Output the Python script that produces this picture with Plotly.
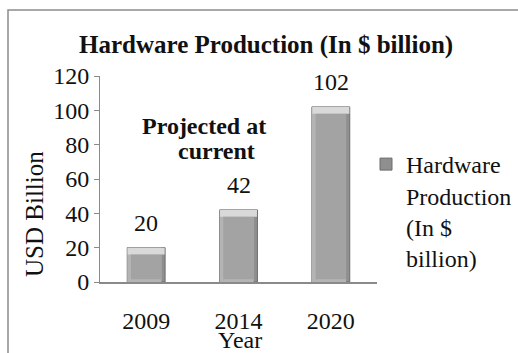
import plotly.graph_objects as go

years = ["2009", "2014", "2020"]
production = [20, 42, 102]
series_name = "Hardware<br>Production<br>(In $<br>billion)"
y_ticks = [0, 20, 40, 60, 80, 100, 120]

FONT = "Liberation Serif, Times New Roman, serif"
INK = "#111111"
AXIS = "#8a8a8a"

# plot area geometry in pixels
W, H = 518, 353
L, R, T, B = 100, 141, 76, 71
pw, ph = W - L - R, H - T - B

BAR_W = 0.41
TOP_BEVEL = 4.0      # in data units (~7 px)
BOTTOM_BEVEL = 1.6
SIDE = 0.04          # side bevel width in category units


def px_x(px):
    return (px - L) / pw


def px_y(py):
    return (H - B - py) / ph


def label(text, x, y, size=24, angle=0):
    return dict(text=text, xref="paper", yref="paper",
                x=px_x(x), y=px_y(y), xanchor="center", yanchor="middle",
                showarrow=False, textangle=angle,
                font=dict(family=FONT, size=size, color=INK))


fig = go.Figure()

# main bars (dark right/bottom bevel shows through)
fig.add_trace(go.Bar(
    x=years, y=production, name=series_name,
    width=BAR_W,
    marker=dict(color="#8f8f8f", line=dict(color="#6c6c6c", width=1)),
    showlegend=True, hoverinfo="skip",
))
# light left bevel
fig.add_trace(go.Bar(
    x=years, y=production, width=BAR_W - SIDE, offset=-BAR_W / 2,
    marker=dict(color="#b4b4b4", line=dict(width=0)),
    showlegend=False, hoverinfo="skip",
))
# bright top bevel
fig.add_trace(go.Bar(
    x=years, y=[TOP_BEVEL] * len(production),
    base=[v - TOP_BEVEL for v in production],
    width=BAR_W - 0.01, offset=-BAR_W / 2 + 0.005,
    marker=dict(color="#d9d9d9", line=dict(width=0)),
    showlegend=False, hoverinfo="skip",
))
# bar face
fig.add_trace(go.Bar(
    x=years, y=[v - TOP_BEVEL - BOTTOM_BEVEL for v in production],
    base=[BOTTOM_BEVEL] * len(production),
    width=BAR_W - 2 * SIDE, offset=-BAR_W / 2 + SIDE,
    marker=dict(color="#a3a3a3", line=dict(width=0)),
    showlegend=False, hoverinfo="skip",
))

# value labels sitting above each bar
value_labels = [
    dict(text=str(v), x=i, y=v, xref="x", yref="y",
         xanchor="center", yanchor="bottom", yshift=10, showarrow=False,
         font=dict(family=FONT, size=24, color=INK))
    for i, v in enumerate(production)
]

fig.update_layout(
    width=W, height=H,
    margin=dict(l=L, r=R, t=T, b=B, autoexpand=False),
    paper_bgcolor="white", plot_bgcolor="white",
    font=dict(family=FONT, size=24, color=INK),
    barmode="overlay",
    showlegend=True,
    legend=dict(
        x=px_x(366), y=px_y(142), xanchor="left", yanchor="top",
        font=dict(family=FONT, size=24, color=INK),
        valign="top", itemwidth=30, tracegroupgap=0,
        bgcolor="rgba(0,0,0,0)",
    ),
    xaxis=dict(
        type="category", range=[-0.5, 2.5],
        showline=True, linecolor=AXIS, linewidth=2,
        ticks="", showgrid=False, zeroline=False,
        tickfont=dict(family=FONT, size=24, color=INK),
        ticklabelstandoff=16,
    ),
    yaxis=dict(
        range=[0, 120], tickvals=y_ticks,
        showline=True, linecolor=AXIS, linewidth=1,
        ticks="outside", ticklen=5, tickcolor=AXIS,
        # fixed-width spaces keep the numbers clear of the tick marks
        ticksuffix="\u2007\u2007\u200a",
        showgrid=False, zeroline=False,
        tickfont=dict(family=FONT, size=24, color=INK),
    ),
    shapes=[
        dict(type="rect", xref="paper", yref="paper",
             x0=px_x(8), x1=px_x(540), y0=px_y(380), y1=px_y(10),
             line=dict(color="#8c8c8c", width=1.5), fillcolor="rgba(0,0,0,0)",
             layer="below"),
    ],
    annotations=[
        label("<b>Hardware Production (In $ billion)</b>", 266, 45, size=25),
        label("<b>Projected at</b>", 204, 126),
        label("<b>current</b>", 216, 151),
        label("USD Billion", 35, 214, size=25, angle=-90),
        label("Year", 240, 340),
    ] + value_labels,
)

fig.write_html("out.html")
